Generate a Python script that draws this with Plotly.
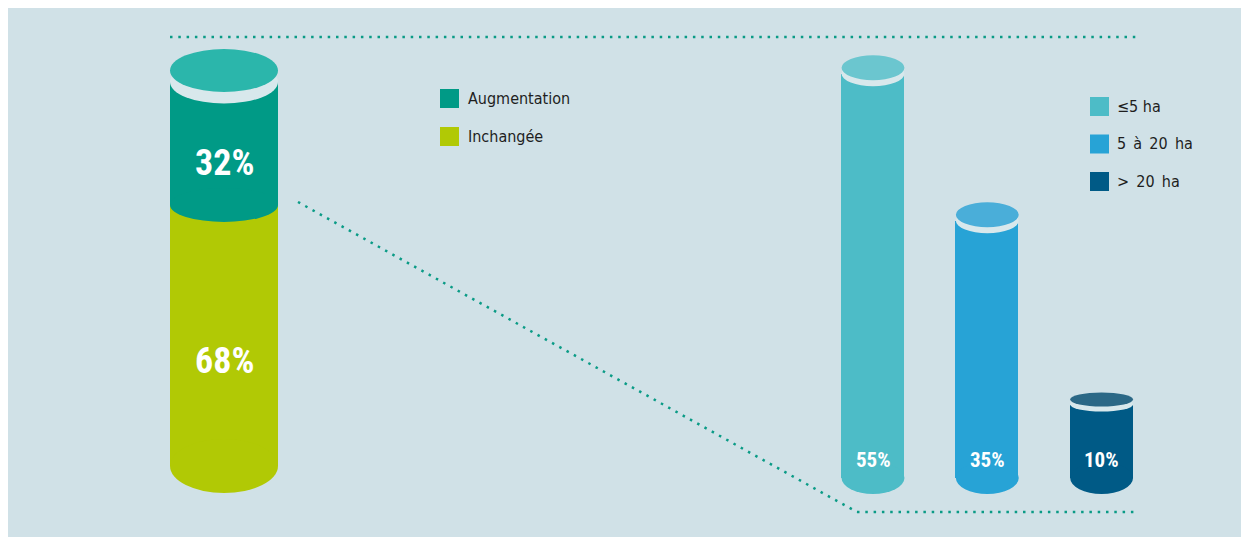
import plotly.graph_objects as go

W, H = 1249, 537
OFF = 8  # page margin around the figure

# ---------------- data ----------------
share_labels = ["Augmentation", "Inchangée"]
share_values = [32, 68]
share_text = ["32%", "68%"]

size_labels = ["≤5 ha", "5\u2002à\u200220\u2002ha", ">\u200220\u2002ha"]
size_values = [55, 35, 10]
size_text = ["55%", "35%", "10%"]

# ---------------- styles ----------------
share_colors = ["#009a86", "#b1c905"]
share_cap = "#2bb6ab"
size_colors = ["#4dbcc7", "#27a3d6", "#005a86"]
size_caps = ["#6bc6cf", "#4aaed9", "#2b6886"]
ring_color = "#d8e8ec"
panel_color = "#d0e1e7"
dot_color = "#0a9b86"
pct_font = "Roboto Condensed, Liberation Sans Narrow, DejaVu Sans Condensed, sans-serif"
leg_font = "DejaVu Sans Condensed, Roboto, sans-serif"


def px(x):
    return (x - OFF) / W


def py(y):
    return 1 - (y - OFF) / H


# left axis geometry (screen pixels)
L_cx, L_xs, L_xr = 224, 108, [-0.7, 0.7]
L_y0, L_ys, L_yr = 466, 3.84, [-10, 118]
# right axis geometry
R_cx, R_xs, R_xr = 873, 114.3, [-0.6, 2.6]
R_y0, R_ys, R_yr = 478, 7.35, [-5, 60]

fig = go.Figure()

# left stacked cylinder: Inchangée at bottom, Augmentation on top
order = [1, 0]
base = 0
bases = {}
for i in order:
    bases[i] = base
    fig.add_trace(go.Bar(
        x=[0], y=[share_values[i]], base=[base], width=1.0,
        marker=dict(color=share_colors[i], line=dict(width=0)),
        name=share_labels[i], showlegend=False, xaxis="x", yaxis="y",
        hoverinfo="skip"))
    base += share_values[i]
total = base

# right cylinders
xs = list(range(len(size_values)))
fig.add_trace(go.Bar(
    x=xs, y=size_values, width=0.55,
    marker=dict(color=size_colors, line=dict(width=0)),
    showlegend=False, xaxis="x2", yaxis="y2", hoverinfo="skip"))

shapes = []


def ell(xref, yref, xc, hw, yval, off, ry, color):
    return dict(type="circle", xref=xref, yref=yref, x0=xc - hw, x1=xc + hw,
                ysizemode="pixel", yanchor=yval, y0=off - ry, y1=off + ry,
                fillcolor=color, line=dict(width=0), layer="above")


# left cylinder ellipses
shapes.append(ell("x", "y", 0, 0.5, 0, 0, 27, share_colors[1]))
shapes.append(ell("x", "y", 0, 0.5, bases[0], 0, 17, share_colors[0]))
shapes.append(ell("x", "y", 0, 0.5, total, 0, 21.5, ring_color))
shapes.append(ell("x", "y", 0, 0.5, total, 11.5, 21.5, share_cap))

# right cylinders ellipses
for i, v in enumerate(size_values):
    shapes.append(ell("x2", "y2", i, 0.275, 0, 0, 16, size_colors[i]))
    ry = 12.5 if v > 20 else 7
    off = 6 if v > 20 else 5
    shapes.append(ell("x2", "y2", i, 0.275, v, 0, ry, ring_color))
    shapes.append(ell("x2", "y2", i, 0.275, v, off, ry, size_caps[i]))

# dotted connector lines
dash = "2.5px,5.8px"
for (xa, ya, xb, yb) in [(170, 37, 1137, 37), (298, 202, 857, 512),
                         (857, 512, 1137, 512)]:
    shapes.append(dict(type="line", xref="paper", yref="paper",
                       x0=px(xa), y0=py(ya), x1=px(xb), y1=py(yb),
                       line=dict(color=dot_color, width=2.5, dash=dash)))

annotations = []
# left percentage labels
shifts = {0: -20, 1: -26}
for i in order:
    annotations.append(dict(
        x=0, y=bases[i] + share_values[i] / 2, xref="x", yref="y",
        text="<b>%s</b>" % share_text[i], showarrow=False, yshift=shifts[i],
        font=dict(family=pct_font, size=36, color="white")))
# right percentage labels
for i, t in enumerate(size_text):
    annotations.append(dict(
        x=i, y=0, xref="x2", yref="y2", text="<b>%s</b>" % t,
        showarrow=False, yshift=18,
        font=dict(family=pct_font, size=21, color="white")))

# legends (manual swatches)
leg1_y = [98.5, 136.5]
for lab, col, yc in zip(share_labels, share_colors, leg1_y):
    shapes.append(dict(type="rect", xref="paper", yref="paper",
                       x0=px(440), x1=px(459), y0=py(yc + 9.5), y1=py(yc - 9.5),
                       fillcolor=col, line=dict(width=0)))
    annotations.append(dict(x=px(466), y=py(yc), xref="paper", yref="paper",
                            xanchor="left", yanchor="middle", text=lab,
                            showarrow=False,
                            font=dict(family=leg_font, size=16, color="#1e1e1e")))
leg2_y = [106.5, 144, 181.5]
for lab, col, yc in zip(size_labels, size_colors, leg2_y):
    shapes.append(dict(type="rect", xref="paper", yref="paper",
                       x0=px(1090), x1=px(1109), y0=py(yc + 9.5), y1=py(yc - 9.5),
                       fillcolor=col, line=dict(width=0)))
    annotations.append(dict(x=px(1115), y=py(yc), xref="paper", yref="paper",
                            xanchor="left", yanchor="middle", text=lab,
                            showarrow=False,
                            font=dict(family=leg_font, size=16, color="#1e1e1e")))


def dom_x(c, s, r):
    return [px(c + r[0] * s), px(c + r[1] * s)]


def dom_y(z, s, r):
    return [py(z - r[0] * s), py(z - r[1] * s)]


ax = dict(visible=False, showgrid=False, zeroline=False, fixedrange=True)
fig.update_layout(
    width=W, height=H, margin=dict(l=0, r=0, t=0, b=0),
    paper_bgcolor=panel_color, plot_bgcolor="rgba(0,0,0,0)",
    barmode="overlay", bargap=0,
    xaxis=dict(domain=dom_x(L_cx, L_xs, L_xr), range=L_xr, anchor="y", **ax),
    yaxis=dict(domain=dom_y(L_y0, L_ys, L_yr), range=L_yr, anchor="x", **ax),
    xaxis2=dict(domain=dom_x(R_cx, R_xs, R_xr), range=R_xr, anchor="y2", **ax),
    yaxis2=dict(domain=dom_y(R_y0, R_ys, R_yr), range=R_yr, anchor="x2", **ax),
    shapes=shapes, annotations=annotations, showlegend=False,
)

fig.write_html("out.html", config=dict(displayModeBar=False))
